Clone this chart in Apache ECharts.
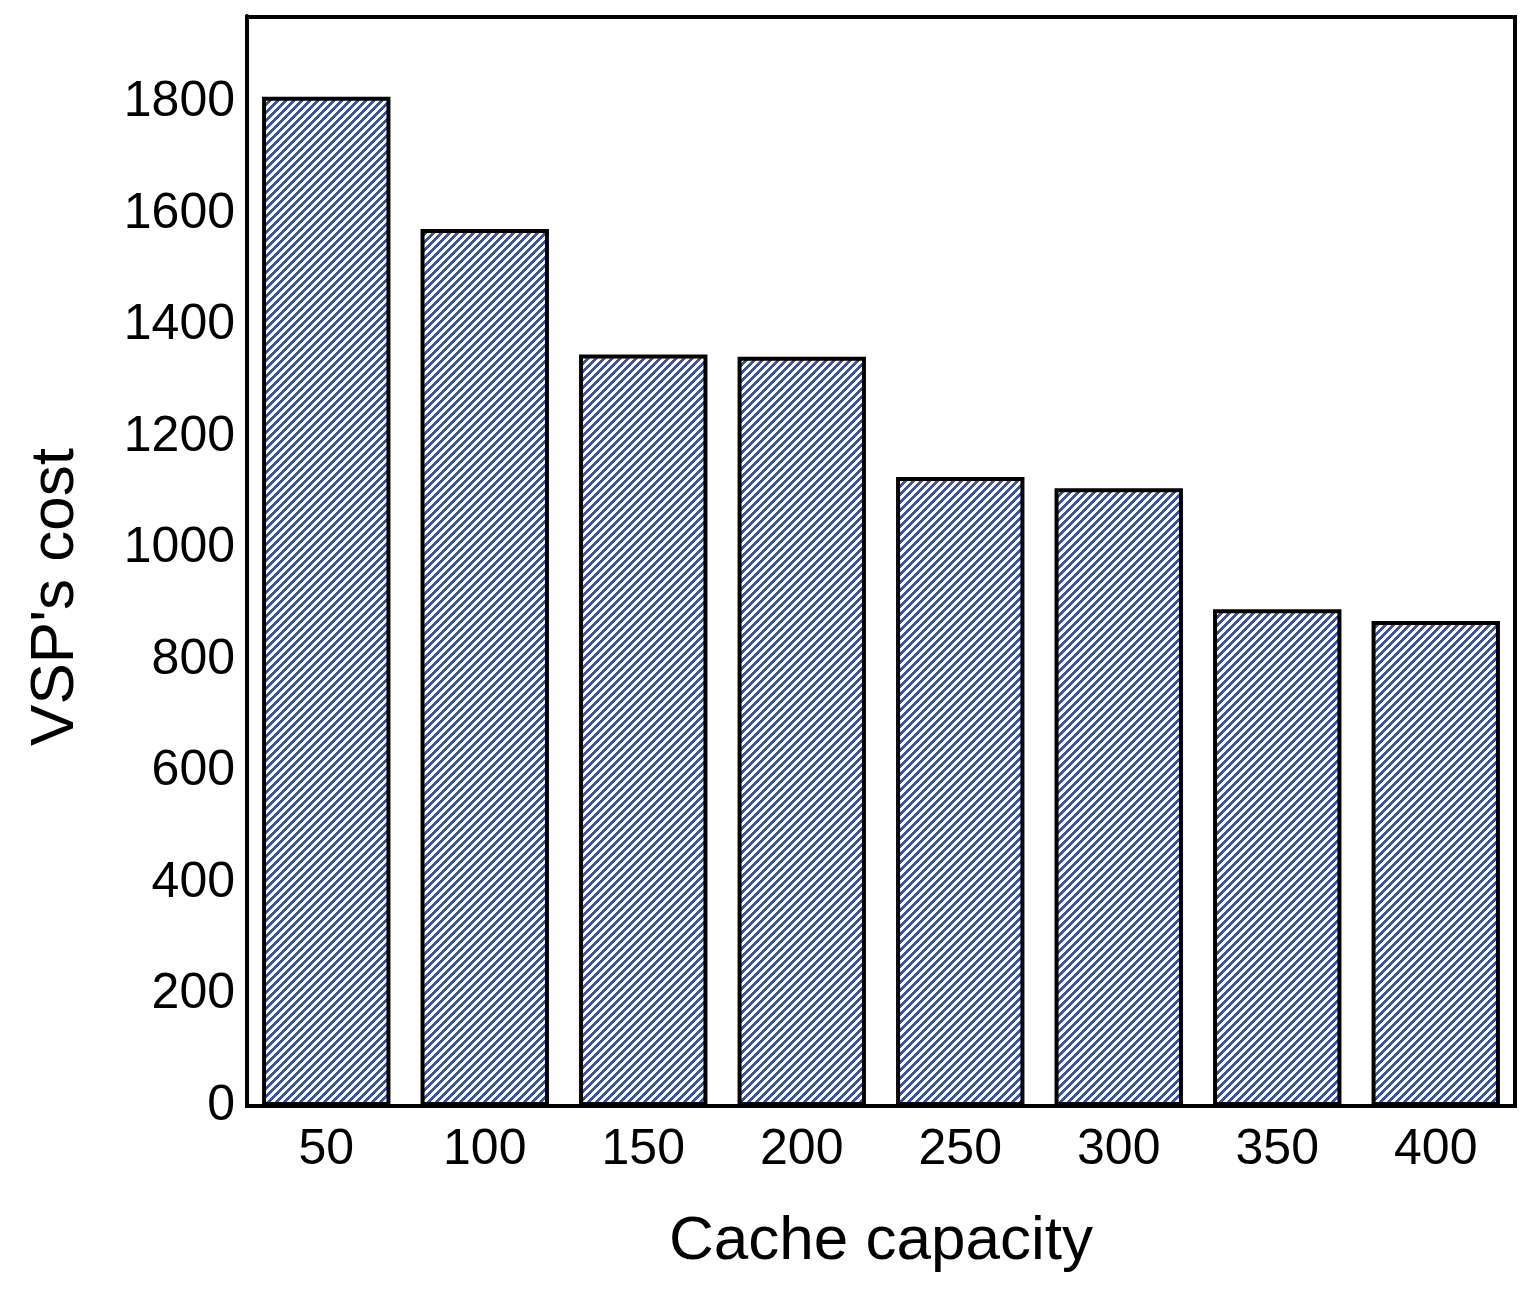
<!DOCTYPE html>
<html>
<head>
<meta charset="utf-8">
<script src="https://cdn.jsdelivr.net/npm/echarts@6/dist/echarts.min.js"></script>
<style>
  html, body { margin: 0; padding: 0; background: #fff; }
  #chart { width: 1532px; height: 1289px; }
</style>
</head>
<body>
<div id="chart"></div>
<script>
  var categories = ['50', '100', '150', '200', '250', '300', '350', '400'];
  var costValues = [1810, 1573, 1348, 1344, 1128, 1108, 891, 870];

  // crisp pixel hatch, stripes going up to the right
  function makeHatch() {
    var size = 8;
    var c = document.createElement('canvas');
    c.width = size;
    c.height = size;
    var ctx = c.getContext('2d');
    ctx.fillStyle = '#ffffff';
    ctx.fillRect(0, 0, size, size);
    ctx.fillStyle = '#3a55a7';
    for (var y = 0; y < size; y++) {
      for (var x = 0; x < size; x++) {
        if ((x + y) % size < 4) ctx.fillRect(x, y, 1, 1);
      }
    }
    return c;
  }

  var chart = echarts.init(document.getElementById('chart'));
  var font = 'Liberation Sans, Arial, sans-serif';

  chart.setOption({
    animation: false,
    grid: { left: 247, right: 17, top: 16, bottom: 183, containLabel: false },
    xAxis: {
      type: 'category',
      data: categories,
      name: 'Cache capacity',
      nameLocation: 'middle',
      nameGap: 105,
      nameTextStyle: { fontFamily: font, fontSize: 62, color: '#000' },
      axisLine: { lineStyle: { color: '#000', width: 4 } },
      axisTick: { show: false },
      axisLabel: { fontFamily: font, fontSize: 50, color: '#000', margin: 19 }
    },
    yAxis: {
      type: 'value',
      min: 0,
      max: 1955,
      interval: 200,
      name: "VSP's cost",
      nameLocation: 'middle',
      nameGap: 160,
      nameTextStyle: { fontFamily: font, fontSize: 62, color: '#000', padding: [0, 0, 0, -72] },
      axisLine: { show: true, lineStyle: { color: '#000', width: 4 } },
      axisTick: { show: false },
      splitLine: { show: false },
      axisLabel: {
        fontFamily: font, fontSize: 50, color: '#000', margin: 12, showMaxLabel: false,
        formatter: function (v) { return String(v); }
      }
    },
    graphic: [{
      type: 'rect',
      shape: { x: 247, y: 17, width: 1268, height: 1089 },
      style: { fill: null, stroke: '#000', lineWidth: 4 },
      silent: true
    }],
    series: [{
      type: 'bar',
      data: costValues,
      barWidth: '81%',
      itemStyle: {
        color: { image: makeHatch(), repeat: 'repeat' },
        borderColor: '#000',
        borderWidth: 4
      }
    }]
  });
</script>
</body>
</html>
